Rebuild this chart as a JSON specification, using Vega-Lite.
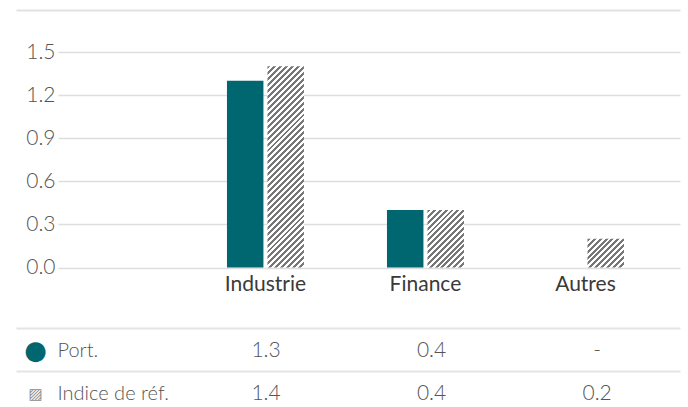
{
  "$schema": "https://vega.github.io/schema/vega-lite/v6.json",
  "background": "white",
  "padding": {"left": 15, "top": 9, "right": 8, "bottom": 0},
  "bounds": "flush",
  "spacing": 60,
  "config": {
    "font": "Lato",
    "view": {"stroke": null},
    "axis": {"minExtent": 0, "labelFont": "Lato"}
  },
  "data": {
    "values": [
      {"cat": "Industrie", "series": "Port.", "value": 1.3},
      {"cat": "Industrie", "series": "Indice de réf.", "value": 1.4},
      {"cat": "Finance", "series": "Port.", "value": 0.4},
      {"cat": "Finance", "series": "Indice de réf.", "value": 0.4},
      {"cat": "Autres", "series": "Port.", "value": null},
      {"cat": "Autres", "series": "Indice de réf.", "value": 0.2}
    ]
  },
  "vconcat": [
    {
      "width": 622,
      "height": 215.5,
      "encoding": {
        "x": {
          "field": "cat", "type": "nominal", "sort": ["Industrie", "Finance", "Autres"],
          "scale": {"paddingInner": 0.51875, "paddingOuter": 0.703, "align": 0.751},
          "axis": {"title": null, "ticks": false, "domain": false, "labelAngle": 0, "labelFontSize": 21, "labelFontWeight": 400, "labelColor": "#3a3a3a", "labelPadding": 6}
        },
        "xOffset": {
          "field": "series", "type": "nominal", "sort": ["Port.", "Indice de réf."],
          "scale": {"domain": ["Port.", "Indice de réf."], "paddingInner": 0.1, "paddingOuter": 0}
        }
      },
      "layer": [
        {
          "mark": {"type": "bar"},
          "encoding": {
            "y": {
              "field": "value", "type": "quantitative",
              "scale": {"domain": [0, 1.5], "nice": false},
              "axis": {"title": null, "values": [0, 0.3, 0.6, 0.9, 1.2, 1.5], "format": ".1f", "grid": true, "gridColor": "#dedede", "gridWidth": 1.5, "ticks": false, "domain": false, "labelFontSize": 21, "labelColor": "#555555", "labelFontWeight": 300, "labelPadding": 3}
            },
            "fill": {
              "condition": [
                {"test": "datum.series === 'Port.'", "value": "#006670"},
                {"test": "datum.cat === 'Industrie'", "value": {"gradient": "linear", "x1": 0, "y1": 0, "x2": 0.2074, "y2": 1.1438, "stops": [
{"offset":0,"color":"#777"},{"offset":0.0125,"color":"#777"},{"offset":0.0125,"color":"#fff"},{"offset":0.025,"color":"#fff"},
{"offset":0.025,"color":"#777"},{"offset":0.0375,"color":"#777"},{"offset":0.0375,"color":"#fff"},{"offset":0.05,"color":"#fff"},
{"offset":0.05,"color":"#777"},{"offset":0.0625,"color":"#777"},{"offset":0.0625,"color":"#fff"},{"offset":0.075,"color":"#fff"},
{"offset":0.075,"color":"#777"},{"offset":0.0875,"color":"#777"},{"offset":0.0875,"color":"#fff"},{"offset":0.1,"color":"#fff"},
{"offset":0.1,"color":"#777"},{"offset":0.1125,"color":"#777"},{"offset":0.1125,"color":"#fff"},{"offset":0.125,"color":"#fff"},
{"offset":0.125,"color":"#777"},{"offset":0.1375,"color":"#777"},{"offset":0.1375,"color":"#fff"},{"offset":0.15,"color":"#fff"},
{"offset":0.15,"color":"#777"},{"offset":0.1625,"color":"#777"},{"offset":0.1625,"color":"#fff"},{"offset":0.175,"color":"#fff"},
{"offset":0.175,"color":"#777"},{"offset":0.1875,"color":"#777"},{"offset":0.1875,"color":"#fff"},{"offset":0.2,"color":"#fff"},
{"offset":0.2,"color":"#777"},{"offset":0.2125,"color":"#777"},{"offset":0.2125,"color":"#fff"},{"offset":0.225,"color":"#fff"},
{"offset":0.225,"color":"#777"},{"offset":0.2375,"color":"#777"},{"offset":0.2375,"color":"#fff"},{"offset":0.25,"color":"#fff"},
{"offset":0.25,"color":"#777"},{"offset":0.2625,"color":"#777"},{"offset":0.2625,"color":"#fff"},{"offset":0.275,"color":"#fff"},
{"offset":0.275,"color":"#777"},{"offset":0.2875,"color":"#777"},{"offset":0.2875,"color":"#fff"},{"offset":0.3,"color":"#fff"},
{"offset":0.3,"color":"#777"},{"offset":0.3125,"color":"#777"},{"offset":0.3125,"color":"#fff"},{"offset":0.325,"color":"#fff"},
{"offset":0.325,"color":"#777"},{"offset":0.3375,"color":"#777"},{"offset":0.3375,"color":"#fff"},{"offset":0.35,"color":"#fff"},
{"offset":0.35,"color":"#777"},{"offset":0.3625,"color":"#777"},{"offset":0.3625,"color":"#fff"},{"offset":0.375,"color":"#fff"},
{"offset":0.375,"color":"#777"},{"offset":0.3875,"color":"#777"},{"offset":0.3875,"color":"#fff"},{"offset":0.4,"color":"#fff"},
{"offset":0.4,"color":"#777"},{"offset":0.4125,"color":"#777"},{"offset":0.4125,"color":"#fff"},{"offset":0.425,"color":"#fff"},
{"offset":0.425,"color":"#777"},{"offset":0.4375,"color":"#777"},{"offset":0.4375,"color":"#fff"},{"offset":0.45,"color":"#fff"},
{"offset":0.45,"color":"#777"},{"offset":0.4625,"color":"#777"},{"offset":0.4625,"color":"#fff"},{"offset":0.475,"color":"#fff"},
{"offset":0.475,"color":"#777"},{"offset":0.4875,"color":"#777"},{"offset":0.4875,"color":"#fff"},{"offset":0.5,"color":"#fff"},
{"offset":0.5,"color":"#777"},{"offset":0.5125,"color":"#777"},{"offset":0.5125,"color":"#fff"},{"offset":0.525,"color":"#fff"},
{"offset":0.525,"color":"#777"},{"offset":0.5375,"color":"#777"},{"offset":0.5375,"color":"#fff"},{"offset":0.55,"color":"#fff"},
{"offset":0.55,"color":"#777"},{"offset":0.5625,"color":"#777"},{"offset":0.5625,"color":"#fff"},{"offset":0.575,"color":"#fff"},
{"offset":0.575,"color":"#777"},{"offset":0.5875,"color":"#777"},{"offset":0.5875,"color":"#fff"},{"offset":0.6,"color":"#fff"},
{"offset":0.6,"color":"#777"},{"offset":0.6125,"color":"#777"},{"offset":0.6125,"color":"#fff"},{"offset":0.625,"color":"#fff"},
{"offset":0.625,"color":"#777"},{"offset":0.6375,"color":"#777"},{"offset":0.6375,"color":"#fff"},{"offset":0.65,"color":"#fff"},
{"offset":0.65,"color":"#777"},{"offset":0.6625,"color":"#777"},{"offset":0.6625,"color":"#fff"},{"offset":0.675,"color":"#fff"},
{"offset":0.675,"color":"#777"},{"offset":0.6875,"color":"#777"},{"offset":0.6875,"color":"#fff"},{"offset":0.7,"color":"#fff"},
{"offset":0.7,"color":"#777"},{"offset":0.7125,"color":"#777"},{"offset":0.7125,"color":"#fff"},{"offset":0.725,"color":"#fff"},
{"offset":0.725,"color":"#777"},{"offset":0.7375,"color":"#777"},{"offset":0.7375,"color":"#fff"},{"offset":0.75,"color":"#fff"},
{"offset":0.75,"color":"#777"},{"offset":0.7625,"color":"#777"},{"offset":0.7625,"color":"#fff"},{"offset":0.775,"color":"#fff"},
{"offset":0.775,"color":"#777"},{"offset":0.7875,"color":"#777"},{"offset":0.7875,"color":"#fff"},{"offset":0.8,"color":"#fff"},
{"offset":0.8,"color":"#777"},{"offset":0.8125,"color":"#777"},{"offset":0.8125,"color":"#fff"},{"offset":0.825,"color":"#fff"},
{"offset":0.825,"color":"#777"},{"offset":0.8375,"color":"#777"},{"offset":0.8375,"color":"#fff"},{"offset":0.85,"color":"#fff"},
{"offset":0.85,"color":"#777"},{"offset":0.8625,"color":"#777"},{"offset":0.8625,"color":"#fff"},{"offset":0.875,"color":"#fff"},
{"offset":0.875,"color":"#777"},{"offset":0.8875,"color":"#777"},{"offset":0.8875,"color":"#fff"},{"offset":0.9,"color":"#fff"},
{"offset":0.9,"color":"#777"},{"offset":0.9125,"color":"#777"},{"offset":0.9125,"color":"#fff"},{"offset":0.925,"color":"#fff"},
{"offset":0.925,"color":"#777"},{"offset":0.9375,"color":"#777"},{"offset":0.9375,"color":"#fff"},{"offset":0.95,"color":"#fff"},
{"offset":0.95,"color":"#777"},{"offset":0.9625,"color":"#777"},{"offset":0.9625,"color":"#fff"},{"offset":0.975,"color":"#fff"},
{"offset":0.975,"color":"#777"},{"offset":0.9875,"color":"#777"},{"offset":0.9875,"color":"#fff"},{"offset":1,"color":"#fff"}
                ]}},
                {"test": "datum.cat === 'Finance'", "value": {"gradient": "linear", "x1": 0, "y1": 0, "x2": 0.7394, "y2": 1.1653, "stops": [
{"offset":0,"color":"#777"},{"offset":0.03125,"color":"#777"},{"offset":0.03125,"color":"#fff"},{"offset":0.0625,"color":"#fff"},
{"offset":0.0625,"color":"#777"},{"offset":0.09375,"color":"#777"},{"offset":0.09375,"color":"#fff"},{"offset":0.125,"color":"#fff"},
{"offset":0.125,"color":"#777"},{"offset":0.15625,"color":"#777"},{"offset":0.15625,"color":"#fff"},{"offset":0.1875,"color":"#fff"},
{"offset":0.1875,"color":"#777"},{"offset":0.21875,"color":"#777"},{"offset":0.21875,"color":"#fff"},{"offset":0.25,"color":"#fff"},
{"offset":0.25,"color":"#777"},{"offset":0.28125,"color":"#777"},{"offset":0.28125,"color":"#fff"},{"offset":0.3125,"color":"#fff"},
{"offset":0.3125,"color":"#777"},{"offset":0.34375,"color":"#777"},{"offset":0.34375,"color":"#fff"},{"offset":0.375,"color":"#fff"},
{"offset":0.375,"color":"#777"},{"offset":0.40625,"color":"#777"},{"offset":0.40625,"color":"#fff"},{"offset":0.4375,"color":"#fff"},
{"offset":0.4375,"color":"#777"},{"offset":0.46875,"color":"#777"},{"offset":0.46875,"color":"#fff"},{"offset":0.5,"color":"#fff"},
{"offset":0.5,"color":"#777"},{"offset":0.53125,"color":"#777"},{"offset":0.53125,"color":"#fff"},{"offset":0.5625,"color":"#fff"},
{"offset":0.5625,"color":"#777"},{"offset":0.59375,"color":"#777"},{"offset":0.59375,"color":"#fff"},{"offset":0.625,"color":"#fff"},
{"offset":0.625,"color":"#777"},{"offset":0.65625,"color":"#777"},{"offset":0.65625,"color":"#fff"},{"offset":0.6875,"color":"#fff"},
{"offset":0.6875,"color":"#777"},{"offset":0.71875,"color":"#777"},{"offset":0.71875,"color":"#fff"},{"offset":0.75,"color":"#fff"},
{"offset":0.75,"color":"#777"},{"offset":0.78125,"color":"#777"},{"offset":0.78125,"color":"#fff"},{"offset":0.8125,"color":"#fff"},
{"offset":0.8125,"color":"#777"},{"offset":0.84375,"color":"#777"},{"offset":0.84375,"color":"#fff"},{"offset":0.875,"color":"#fff"},
{"offset":0.875,"color":"#777"},{"offset":0.90625,"color":"#777"},{"offset":0.90625,"color":"#fff"},{"offset":0.9375,"color":"#fff"},
{"offset":0.9375,"color":"#777"},{"offset":0.96875,"color":"#777"},{"offset":0.96875,"color":"#fff"},{"offset":1,"color":"#fff"}
                ]}}
              ],
              "value": {"gradient": "linear", "x1": 0, "y1": 0, "x2": 1.1032, "y2": 0.8691, "stops": [
{"offset":0,"color":"#777"},{"offset":0.04545,"color":"#777"},{"offset":0.04545,"color":"#fff"},{"offset":0.09091,"color":"#fff"},
{"offset":0.09091,"color":"#777"},{"offset":0.13636,"color":"#777"},{"offset":0.13636,"color":"#fff"},{"offset":0.18182,"color":"#fff"},
{"offset":0.18182,"color":"#777"},{"offset":0.22727,"color":"#777"},{"offset":0.22727,"color":"#fff"},{"offset":0.27273,"color":"#fff"},
{"offset":0.27273,"color":"#777"},{"offset":0.31818,"color":"#777"},{"offset":0.31818,"color":"#fff"},{"offset":0.36364,"color":"#fff"},
{"offset":0.36364,"color":"#777"},{"offset":0.40909,"color":"#777"},{"offset":0.40909,"color":"#fff"},{"offset":0.45455,"color":"#fff"},
{"offset":0.45455,"color":"#777"},{"offset":0.5,"color":"#777"},{"offset":0.5,"color":"#fff"},{"offset":0.54545,"color":"#fff"},
{"offset":0.54545,"color":"#777"},{"offset":0.59091,"color":"#777"},{"offset":0.59091,"color":"#fff"},{"offset":0.63636,"color":"#fff"},
{"offset":0.63636,"color":"#777"},{"offset":0.68182,"color":"#777"},{"offset":0.68182,"color":"#fff"},{"offset":0.72727,"color":"#fff"},
{"offset":0.72727,"color":"#777"},{"offset":0.77273,"color":"#777"},{"offset":0.77273,"color":"#fff"},{"offset":0.81818,"color":"#fff"},
{"offset":0.81818,"color":"#777"},{"offset":0.86364,"color":"#777"},{"offset":0.86364,"color":"#fff"},{"offset":0.90909,"color":"#fff"},
{"offset":0.90909,"color":"#777"},{"offset":0.95455,"color":"#777"},{"offset":0.95455,"color":"#fff"},{"offset":1,"color":"#fff"}
              ]}
            }
          }
        },
        {
          "mark": {"type": "bar", "opacity": 0},
          "encoding": {
            "y": {
              "field": "value", "type": "quantitative",
              "scale": {"domain": [0, 1.5], "nice": false},
              "axis": {"orient": "right", "title": null, "values": [1.5], "grid": false, "labels": false, "domain": false, "ticks": true, "tickSize": -664, "tickOffset": -42.5, "tickColor": "#e2e2e2", "tickWidth": 2, "minExtent": 0}
            }
          }
        }
      ],
      "resolve": {"axis": {"y": "independent"}}
    },
    {
      "width": 622,
      "height": 86,
      "layer": [
        {
          "mark": {"type": "text", "fontSize": 21, "color": "#555555", "fontWeight": 300, "baseline": "middle", "dy": 1.5},
          "encoding": {
            "x": {
              "field": "cat", "type": "nominal", "sort": ["Industrie", "Finance", "Autres"],
              "scale": {"type": "point", "padding": 0.879, "align": 0.715},
              "axis": null
            },
            "y": {
              "field": "series", "type": "nominal", "sort": ["Port.", "Indice de réf."],
              "scale": {"type": "band", "domain": ["Port.", "Indice de réf."], "paddingInner": 0, "paddingOuter": 0},
              "axis": {"orient": "left", "title": null, "domain": false, "ticks": false, "grid": false, "labelAlign": "left", "labelBaseline": "middle", "labelPadding": 1, "labelOffset": 1.5, "labelFontSize": 20, "labelColor": "#555555", "labelFontWeight": 300, "minExtent": 0}
            },
            "text": {"condition": {"test": "datum.value === null", "value": "-"}, "field": "value", "type": "quantitative", "format": ".1f"}
          }
        },
        {
          "mark": {"type": "text", "opacity": 0, "text": ""},
          "encoding": {
            "y": {
              "field": "series", "type": "nominal", "sort": ["Port.", "Indice de réf."],
              "scale": {"type": "band", "domain": ["Port.", "Indice de réf."], "paddingInner": 0, "paddingOuter": 0},
              "axis": {"orient": "left", "title": null, "domain": false, "ticks": false, "grid": false, "labelExpr": "datum.value === 'Port.' ? '●' : '▨'", "labelFont": "DejaVu Sans", "labelAlign": "center", "labelBaseline": "middle", "labelPadding": 23, "labelOffset": 1,
                "labelColor": {"condition": {"test": "datum.value === 'Port.'", "value": "#006670"}, "value": "#8a8a8a"},
                "labelFontSize": {"condition": {"test": "datum.value === 'Port.'", "value": 26}, "value": 15},
                "minExtent": 0}
            }
          }
        },
        {
          "mark": {"type": "text", "opacity": 0, "text": ""},
          "encoding": {
            "y": {
              "field": "series", "type": "nominal", "sort": ["Port.", "Indice de réf."],
              "scale": {"type": "band", "domain": ["Port.", "Indice de réf."], "paddingInner": 0, "paddingOuter": 0},
              "axis": {"orient": "right", "title": null, "domain": false, "labels": false, "grid": false, "ticks": true, "bandPosition": 0, "tickSize": -664, "tickColor": "#e4e4e4", "tickWidth": 2, "minExtent": 0}
            }
          }
        }
      ],
      "resolve": {"axis": {"y": "independent"}}
    }
  ]
}
